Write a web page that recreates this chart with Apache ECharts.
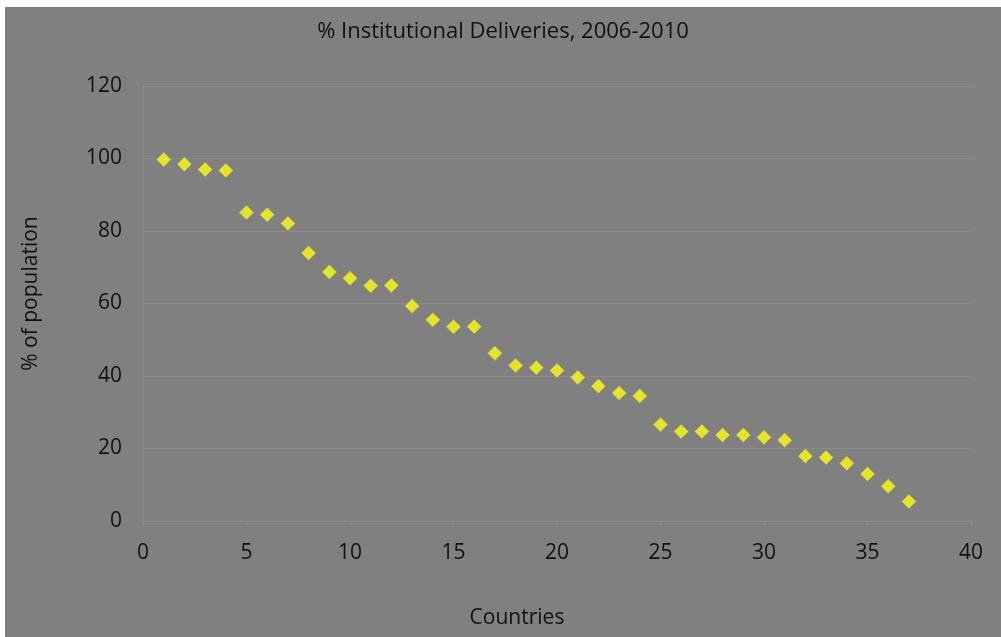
<!DOCTYPE html>
<html>
<head>
<meta charset="utf-8">
<title>% Institutional Deliveries, 2006-2010</title>
<script src="https://cdn.jsdelivr.net/npm/echarts@6/dist/echarts.min.js"></script>
<style>
    html, body { margin: 0; padding: 0; background: #ffffff; }
    #chart {
        position: absolute;
        left: 5px;
        top: 7px;
        width: 996px;
        height: 630px;
        background: #808080;
    }
</style>
</head>
<body>
<div id="chart"></div>
<script>
// Data
const countryIndex = [1, 2, 3, 4, 5, 6, 7, 8, 9, 10, 11, 12, 13, 14, 15, 16, 17, 18, 19,
    20, 21, 22, 23, 24, 25, 26, 27, 28, 29, 30, 31, 32, 33, 34, 35, 36, 37];
const deliveryPct = [99.7, 98.4, 97.0, 96.7, 85.1, 84.5, 82.1, 73.9, 68.7, 67.0, 64.9, 65.0,
    59.3, 55.5, 53.6, 53.6, 46.3, 42.9, 42.3, 41.5, 39.6, 37.2, 35.3, 34.5, 26.6, 24.7,
    24.7, 23.7, 23.7, 23.1, 22.3, 17.9, 17.5, 15.9, 13.0, 9.6, 5.4];
const xTicks = [0, 40, 5];   // min, max, interval
const yTicks = [0, 120, 20];

document.addEventListener('DOMContentLoaded', function() {
    const chart = echarts.init(document.getElementById('chart'));
    const fontFamily = '"Open Sans", "Liberation Sans", sans-serif';

    const points = countryIndex.map((c, i) => [c, deliveryPct[i]]);

    const option = {
        backgroundColor: '#808080',
        animation: false,
        textStyle: { fontFamily: fontFamily },
        title: {
            text: '% Institutional Deliveries, 2006-2010',
            left: 'center',
            top: 9,
            textStyle: { color: '#111111', fontSize: 22, fontWeight: 'normal', fontFamily: fontFamily }
        },
        grid: {
            left: 138,
            right: 30,
            top: 79,
            bottom: 116
        },
        xAxis: {
            type: 'value',
            min: xTicks[0],
            max: xTicks[1],
            interval: xTicks[2],
            name: 'Countries',
            nameLocation: 'middle',
            nameGap: 87,
            nameTextStyle: { color: '#111111', fontSize: 21, padding: [0, 80, 0, 0] },
            axisLine: { show: true, lineStyle: { color: '#8c8c8c', width: 1 } },
            axisTick: { show: true, length: 5, lineStyle: { color: '#8c8c8c' } },
            axisLabel: { color: '#111111', fontSize: 21, margin: 22 },
            splitLine: { show: false }
        },
        yAxis: {
            type: 'value',
            min: yTicks[0],
            max: yTicks[1],
            interval: yTicks[2],
            name: '% of population',
            nameLocation: 'middle',
            nameGap: 101,
            nameTextStyle: { color: '#111111', fontSize: 21, padding: [0, 0, 0, 20] },
            axisLine: { show: true, lineStyle: { color: '#8c8c8c', width: 1 } },
            axisTick: { show: false },
            axisLabel: { color: '#111111', fontSize: 21, margin: 21 },
            splitLine: { show: true, lineStyle: { color: '#8c8c8c', width: 1 } }
        },
        series: [
            {
                name: '% Institutional Deliveries',
                type: 'scatter',
                data: points,
                symbol: 'diamond',
                symbolSize: 15,
                itemStyle: {
                    color: '#ffff00',
                    borderColor: '#8088a8',
                    borderWidth: 1
                }
            }
        ]
    };

    chart.setOption(option);

    window.addEventListener('resize', function() {
        chart.resize();
    });
});
</script>
</body>
</html>
